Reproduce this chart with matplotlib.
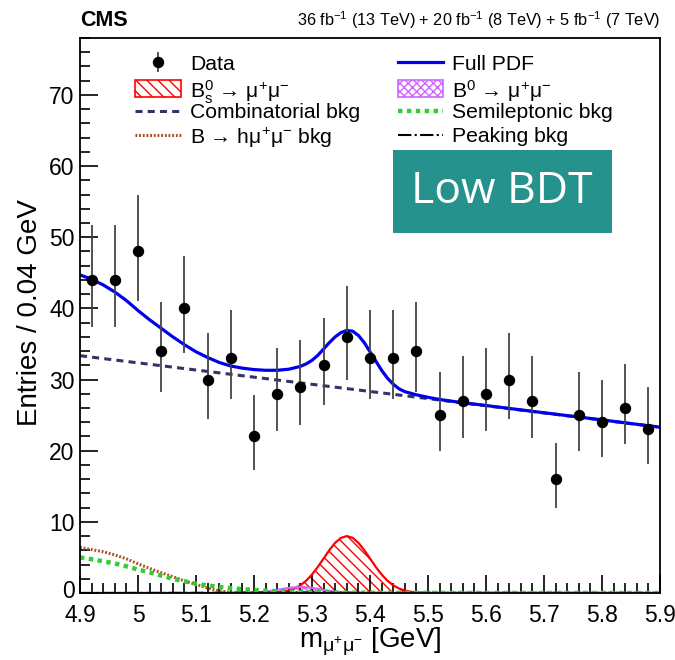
import numpy as np
import matplotlib
matplotlib.use('Agg')
import matplotlib.pyplot as plt
import matplotlib.transforms as mtrans
from matplotlib.patches import Rectangle
from matplotlib.lines import Line2D

plt.rcParams['font.family'] = ['Liberation Sans', 'DejaVu Sans']
plt.rcParams['mathtext.fontset'] = 'custom'
plt.rcParams['mathtext.rm'] = 'Liberation Sans'
plt.rcParams['mathtext.it'] = 'Liberation Sans:italic'
plt.rcParams['mathtext.bf'] = 'Liberation Sans:bold'
plt.rcParams['hatch.linewidth'] = 1.0

# ---------------- data ----------------
mass_bins = [4.92, 4.96, 5.00, 5.04, 5.08, 5.12, 5.16, 5.20, 5.24, 5.28, 5.32, 5.36, 5.40,
             5.44, 5.48, 5.52, 5.56, 5.60, 5.64, 5.68, 5.72, 5.76, 5.80, 5.84, 5.88]
counts = [44, 44, 48, 34, 40, 30, 33, 22, 28, 29, 32, 36, 33,
          33, 34, 25, 27, 28, 30, 27, 16, 25, 24, 26, 23]
err_lo = [6.6, 6.6, 6.9, 5.8, 6.3, 5.5, 5.7, 4.7, 5.3, 5.4, 5.6, 6.0, 5.7,
          5.7, 5.8, 5.0, 5.2, 5.3, 5.5, 5.2, 4.0, 5.0, 4.9, 5.1, 4.8]
err_hi = [7.7, 7.7, 8.0, 6.9, 7.4, 6.5, 6.8, 5.8, 6.4, 6.5, 6.7, 7.1, 6.8,
          6.8, 6.9, 6.1, 6.3, 6.4, 6.5, 6.3, 5.1, 6.1, 6.0, 6.2, 5.9]

full_x = [4.90, 4.92, 4.94, 4.96, 4.98, 5.00, 5.02, 5.04, 5.06, 5.08, 5.10, 5.12, 5.14,
          5.16, 5.18, 5.20, 5.22, 5.24, 5.26, 5.28, 5.29, 5.30, 5.31, 5.32, 5.33, 5.34,
          5.35, 5.36, 5.37, 5.38, 5.39, 5.40, 5.41, 5.42, 5.43, 5.44, 5.45, 5.46, 5.48,
          5.50, 5.52, 5.55, 5.60, 5.70, 5.80, 5.90]
full_y = [44.7, 44.1, 43.3, 42.3, 41.1, 39.7, 38.4, 37.2, 36.0, 34.9, 33.9, 33.1, 32.4,
          31.9, 31.6, 31.4, 31.3, 31.3, 31.45, 31.85, 32.2, 32.7, 33.4, 34.3, 35.2, 36.0,
          36.6, 36.9, 36.8, 36.2, 35.2, 33.9, 32.6, 31.3, 30.2, 29.35, 28.7, 28.3, 27.85,
          27.5, 27.2, 26.85, 26.35, 25.33, 24.33, 23.3]

comb_x = [4.90, 5.90]
comb_y = [33.35, 23.3]

bs_x = [4.90, 5.20, 5.22, 5.23, 5.24, 5.25, 5.26, 5.27, 5.28, 5.29, 5.30, 5.31, 5.32, 5.33,
        5.34, 5.35, 5.36, 5.37, 5.38, 5.39, 5.40, 5.41, 5.42, 5.43, 5.44, 5.45, 5.46, 5.47,
        5.48, 5.49, 5.50, 5.90]
bs_y = [0.0, 0.0, 0.02, 0.04, 0.09, 0.18, 0.35, 0.64, 1.08, 1.73, 2.60, 3.66, 4.85, 6.04,
        7.06, 7.75, 8.0, 7.75, 7.06, 6.04, 4.85, 3.66, 2.60, 1.73, 1.08, 0.64, 0.35, 0.18,
        0.09, 0.04, 0.02, 0.0]

b0_x = [4.90, 5.14, 5.16, 5.18, 5.20, 5.22, 5.24, 5.26, 5.28, 5.30, 5.32, 5.34, 5.36,
        5.38, 5.40, 5.42, 5.90]
b0_y = [0.0, 0.0, 0.0, 0.01, 0.05, 0.18, 0.43, 0.72, 0.85, 0.72, 0.43, 0.18, 0.05,
        0.01, 0.0, 0.0, 0.0]

semi_x = [4.90, 4.92, 4.94, 4.96, 4.98, 5.00, 5.02, 5.04, 5.06, 5.08, 5.10, 5.12, 5.14,
          5.16, 5.18, 5.20, 5.22, 5.24, 5.26, 5.28, 5.30, 5.35, 5.40, 5.50, 5.60, 5.90]
semi_y = [5.0, 4.75, 4.45, 4.15, 3.75, 3.3, 2.9, 2.45, 2.0, 1.65, 1.3, 1.05, 0.85,
          0.68, 0.54, 0.42, 0.33, 0.25, 0.2, 0.15, 0.12, 0.06, 0.03, 0.01, 0.0, 0.0]

hmm_x = [4.90, 4.92, 4.94, 4.96, 4.98, 5.00, 5.02, 5.04, 5.06, 5.08, 5.10, 5.12, 5.14,
         5.16, 5.18, 5.20, 5.90]
hmm_y = [6.4, 6.1, 5.8, 5.35, 4.8, 4.1, 3.45, 2.85, 2.3, 1.7, 1.2, 0.7, 0.3,
         0.08, 0.01, 0.0, 0.0]

peak_x = [4.90, 5.10, 5.20, 5.28, 5.35, 5.45, 5.90]
peak_y = [0.0, 0.02, 0.08, 0.1, 0.05, 0.0, 0.0]

xtick_vals = [4.9, 5.0, 5.1, 5.2, 5.3, 5.4, 5.5, 5.6, 5.7, 5.8, 5.9]
xtick_labels = ['4.9', '5', '5.1', '5.2', '5.3', '5.4', '5.5', '5.6', '5.7', '5.8', '5.9']
ytick_vals = [0, 10, 20, 30, 40, 50, 60, 70]

# colours
c_full = '#0000ee'
c_comb = '#333366'
c_bs = '#ff0000'
c_b0 = '#cc66ff'
c_semi = '#33cc33'
c_hmm = '#a8501e'

W, H = 675, 660
fig = plt.figure(figsize=(W / 100, H / 100), dpi=100)
ax = fig.add_axes([80 / W, 67 / H, 580 / W, 555 / H])

# components
ax.fill_between(bs_x, bs_y, facecolor='none', edgecolor=c_bs, hatch='\\\\\\', lw=0)
ax.plot(bs_x, bs_y, color=c_bs, lw=1.6)
ax.fill_between(b0_x, b0_y, facecolor='none', edgecolor=c_b0, hatch='xxxx', lw=0)
ax.plot(b0_x, b0_y, color=c_b0, lw=1.6)
ax.plot(peak_x, peak_y, color='black', lw=1.5, ls='-.')
ax.plot(hmm_x, hmm_y, color=c_hmm, lw=2.2, dashes=(0.6, 0.6))
ax.plot(semi_x, semi_y, color=c_semi, lw=3.2, dashes=(1, 1))
ax.plot(comb_x, comb_y, color=c_comb, lw=2.2, dashes=(2.3, 1.7))
ax.plot(full_x, full_y, color=c_full, lw=2.3)

# data
ax.errorbar(mass_bins, counts, yerr=[err_lo, err_hi], fmt='o', color='black',
            ecolor='#444444', elinewidth=1.3, markersize=7.2, capsize=0, zorder=5)

ax.set_xlim(4.9, 5.9)
ax.set_ylim(0, 78)
ax.set_xticks(xtick_vals)
ax.set_xticklabels(xtick_labels)
ax.set_yticks(ytick_vals)
ax.xaxis.set_minor_locator(matplotlib.ticker.MultipleLocator(0.02))
ax.yaxis.set_minor_locator(matplotlib.ticker.MultipleLocator(2))
ax.tick_params(which='major', direction='in', length=13, width=1.2, labelsize=16.5)
ax.tick_params(which='minor', direction='in', length=7, width=1.2)
ax.tick_params(axis='y', pad=4)
ax.tick_params(axis='x', pad=8)
for s in ax.spines.values():
    s.set_linewidth(1.3)

# nudge the y "0" up a little so it does not sit on the "4.9"
lab0 = ax.get_yticklabels()[0]
lab0.set_transform(lab0.get_transform() + mtrans.ScaledTranslation(0, 4 / 100, fig.dpi_scale_trans))


def fp(x, y):
    return x / W, 1 - y / H


# legend built by hand (ROOT style)
leg_font = 15.2
rows = [62, 88, 111, 135]

# column 1
hx0, hx1, tx = 135, 181, 190
fig.add_artist(Line2D([fp(158, 0)[0]] * 2, [fp(0, 53)[1], fp(0, 71)[1]], color='#444444', lw=1.3))
fig.add_artist(Line2D([fp(158, 0)[0]], [fp(0, rows[0])[1]], marker='o', color='black', markersize=7.2))
fig.add_artist(Rectangle(fp(hx0, rows[1] + 8.5), (hx1 - hx0) / W, 17 / H, facecolor='none',
                         edgecolor=c_bs, hatch='\\\\\\', lw=1.2))
fig.add_artist(Line2D([hx0 / W, hx1 / W], [fp(0, rows[2])[1]] * 2, color=c_comb, lw=2.2, dashes=(2.3, 1.7)))
fig.add_artist(Line2D([hx0 / W, hx1 / W], [fp(0, rows[3])[1]] * 2, color=c_hmm, lw=2.2, dashes=(0.6, 0.6)))
col1_txt = ['Data',
            r'B$_{\mathregular{s}}^{\mathregular{0}}$ → μ$^{\mathregular{+}}$μ$^{\mathregular{-}}$',
            'Combinatorial bkg',
            r'B → hμ$^{\mathregular{+}}$μ$^{\mathregular{-}}$ bkg']
for r, t in zip(rows, col1_txt):
    fig.text(tx / W, fp(0, r)[1], t, fontsize=leg_font, va='center_baseline', ha='left')

# column 2
hx0, hx1, tx = 398, 443, 452
fig.add_artist(Line2D([hx0 / W, hx1 / W], [fp(0, rows[0])[1]] * 2, color=c_full, lw=2.3))
fig.add_artist(Rectangle(fp(hx0, rows[1] + 8.5), (hx1 - hx0) / W, 17 / H, facecolor='none',
                         edgecolor=c_b0, hatch='xxxx', lw=1.2))
fig.add_artist(Line2D([hx0 / W, hx1 / W], [fp(0, rows[2])[1]] * 2, color=c_semi, lw=3.2, dashes=(1, 1)))
fig.add_artist(Line2D([hx0 / W, hx1 / W], [fp(0, rows[3])[1]] * 2, color='black', lw=1.5, ls='-.'))
col2_txt = ['Full PDF',
            r'B$^{\mathregular{0}}$ → μ$^{\mathregular{+}}$μ$^{\mathregular{-}}$',
            'Semileptonic bkg',
            'Peaking bkg']
for r, t in zip(rows, col2_txt):
    fig.text(tx / W, fp(0, r)[1], t, fontsize=leg_font, va='center_baseline', ha='left')

# Low BDT box
fig.add_artist(Rectangle(fp(393, 233), 219 / W, 83 / H, facecolor='#25928d', edgecolor='none'))
fig.text(fp(502, 0)[0], fp(0, 192)[1], 'Low BDT', family='Open Sans', fontsize=32,
         color='white', ha='center', va='center')

# header texts
fig.text(80 / W, fp(0, 20)[1], 'CMS', fontsize=15.5, weight='bold', va='center')
fig.text(660 / W, fp(0, 20)[1],
         r'36 fb$^{\mathregular{-1}}$ (13 TeV) + 20 fb$^{\mathregular{-1}}$ (8 TeV) + 5 fb$^{\mathregular{-1}}$ (7 TeV)',
         fontsize=11.7, ha='right', va='center')

# axis titles
fig.text(fp(370, 0)[0], fp(0, 647)[1], r'm$_{\mathregular{μ}^{+}\mathregular{μ}^{-}}$ [GeV]',
         fontsize=20, ha='center', va='baseline')
fig.text(30 / W, fp(0, 313)[1], 'Entries / 0.04 GeV', fontsize=20, rotation=90,
         ha='center', va='center')

fig.savefig('out.png', dpi=100)
